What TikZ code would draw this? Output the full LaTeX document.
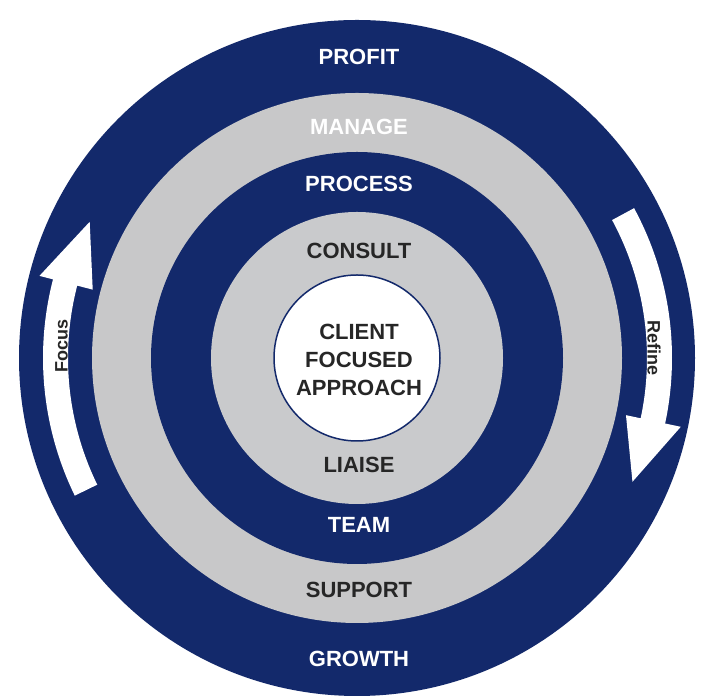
\documentclass[tikz,border=0pt]{standalone}
\usepackage{fontspec}
\setmainfont{Liberation Sans}
\definecolor{navy}{HTML}{13296B}
\definecolor{ringgray}{HTML}{C8C8C9}
\definecolor{innergray}{HTML}{C9CACC}
\definecolor{darktext}{HTML}{262626}
\tikzset{
  ringlabel/.style={font=\bfseries\fontsize{22}{26}\selectfont, inner sep=0pt},
  onnavy/.style={ringlabel, text=white},
  ongray/.style={ringlabel, text=darktext},
  arrowlabel/.style={font=\bfseries\fontsize{18}{22}\selectfont, text=darktext, inner sep=0pt},
  bigarrow/.style={fill=white}
}
\begin{document}
\begin{tikzpicture}[x=1pt,y=1pt]
\useasboundingbox (0,0) rectangle (705,698);
\fill[white] (0,0) rectangle (705,698);
\coordinate (C) at (357,340);
\fill[navy] (C) circle[radius=338pt];
\fill[ringgray] (C) circle[radius=265pt];
\fill[navy] (C) circle[radius=206pt];
\fill[innergray] (C) circle[radius=146pt];
\draw[navy, line width=1.5pt, fill=white] (C) circle[radius=83pt];

\begin{scope}[shift={(357,340)}]
  % Focus arrow (left, pointing up)
  \fill[bigarrow] (206:314) arc[start angle=206, end angle=165.5, radius=314pt]
     -- (165.5:328) -- (153:300) -- (165.5:273) -- (165.5:289)
     arc[start angle=165.5, end angle=206, radius=289pt] -- cycle;
  % Refine arrow (right, pointing down)
  \fill[bigarrow] (28.4:315) arc[start angle=28.4, end angle=-12, radius=315pt]
     -- (-12:331) -- (-24.2:302) -- (-12:275) -- (-12:290)
     arc[start angle=-12, end angle=28.4, radius=290pt] -- cycle;
\end{scope}

\node[arrowlabel, rotate=90] (focus) at (61.5,352) {Focus};
\node[arrowlabel, rotate=-90] (refine) at (654,350) {Refine};

\node[onnavy] (profit) at (359,641) {PROFIT};
\node[ringlabel, text=white] (manage) at (359,571) {MANAGE};
\node[onnavy] (process) at (359,514) {PROCESS};
\node[ongray] (consult) at (359,447) {CONSULT};
\node[ongray, align=center, font=\bfseries\fontsize{22}{28}\selectfont] (client) at (359,338) {CLIENT\\FOCUSED\\APPROACH};
\node[ongray] (liaise) at (359,233) {LIAISE};
\node[onnavy] (team) at (359,173) {TEAM};
\node[ongray] (support) at (359,108) {SUPPORT};
\node[onnavy] (growth) at (359,39) {GROWTH};
\end{tikzpicture}
\end{document}
